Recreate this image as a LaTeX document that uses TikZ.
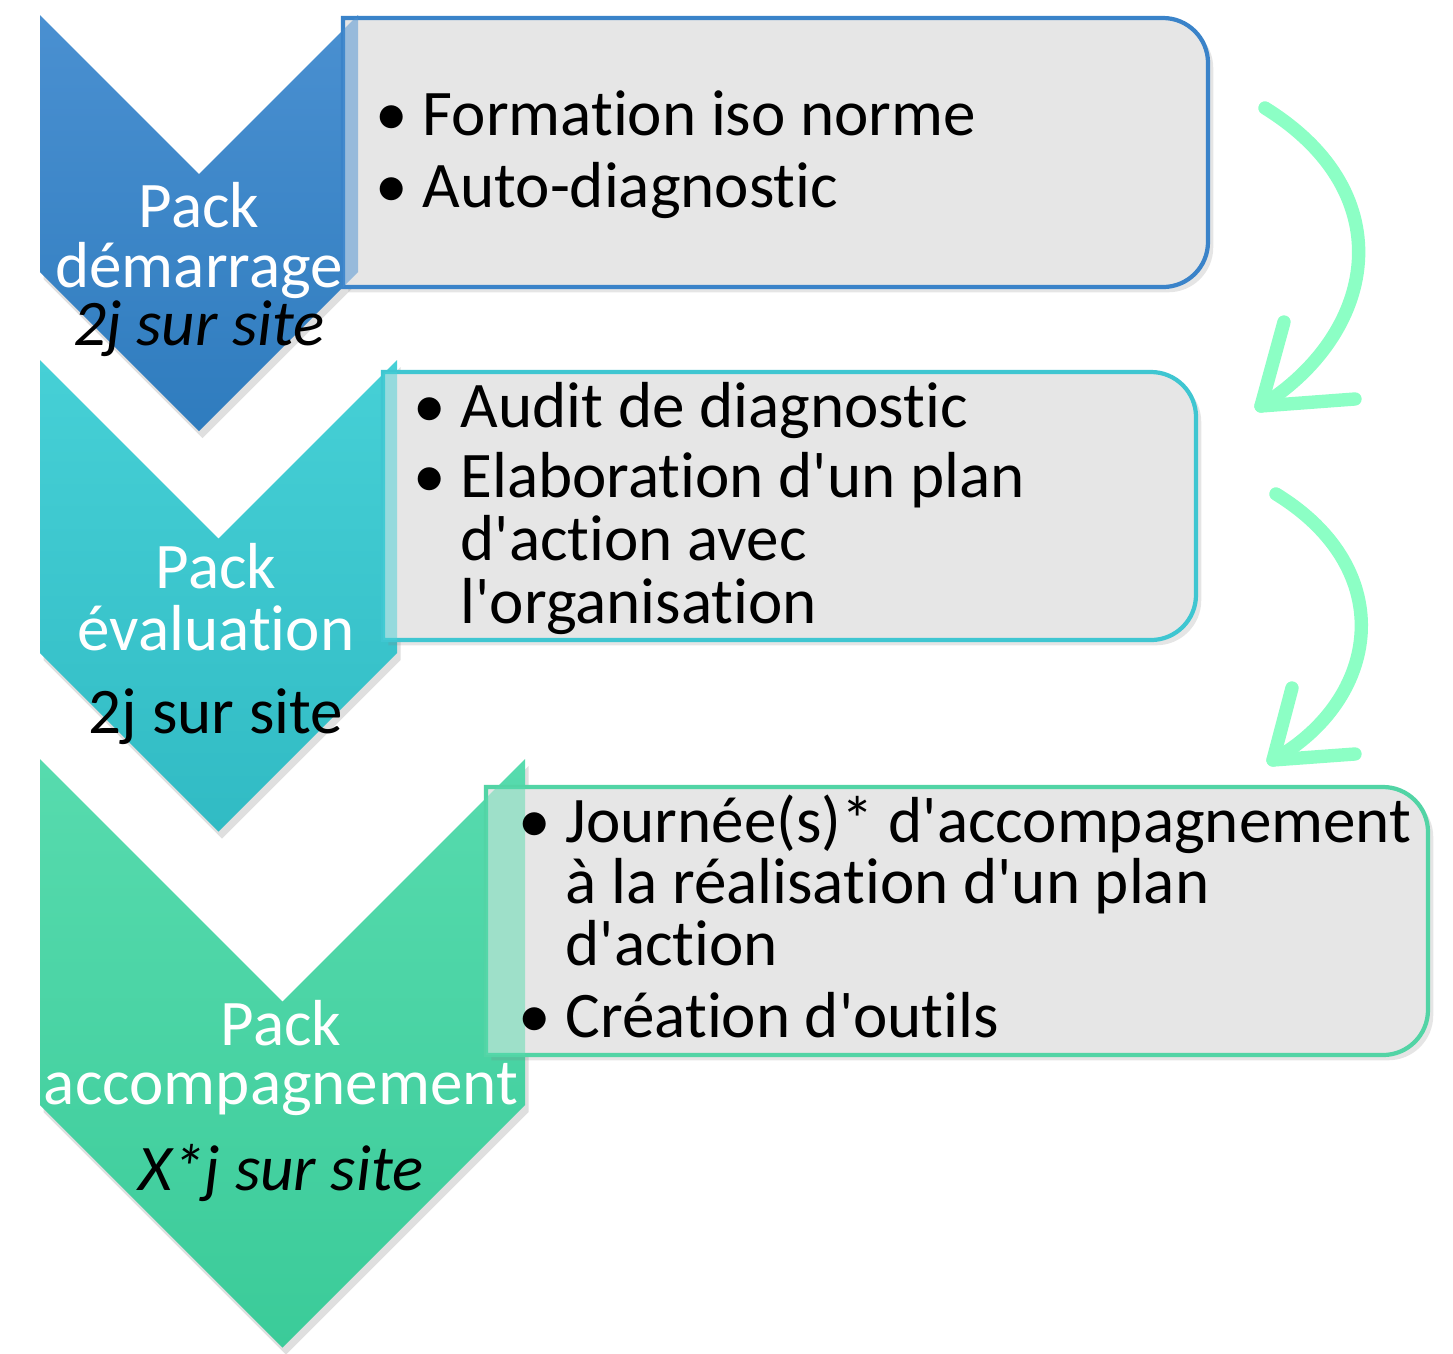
\documentclass[tikz,border=0pt]{standalone}
\usepackage{fontspec}
\setmainfont{Carlito}
\usetikzlibrary{shadows, positioning}
\definecolor{blueTop}{HTML}{4A90D1}
\definecolor{blueBot}{HTML}{2F7CBE}
\definecolor{blueLine}{HTML}{3A83C9}
\definecolor{cyanTop}{HTML}{46D0D6}
\definecolor{cyanBot}{HTML}{31BBC4}
\definecolor{cyanLine}{HTML}{3FC6D1}
\definecolor{greenTop}{HTML}{57DBAE}
\definecolor{greenBot}{HTML}{3BCB99}
\definecolor{greenLine}{HTML}{52D4A5}
\definecolor{boxgray}{HTML}{E6E6E6}
\definecolor{flowgreen}{HTML}{8CFFC5}
\newcommand{\packfont}{\fontsize{18.5}{22}\selectfont}
\newcommand{\itemfont}{\fontsize{18.5}{22}\selectfont}
\newcommand{\ap}{\textquotesingle}
\newcommand{\tiglyph}{t\kern0pt i}% keeps t and i apart
% chevron: left, right, top, bottom of the sides
\newcommand{\chevronpath}[4]{(#1,-#3) -- ({(#1+#2)/2},{-#3-(#2-#1)/2}) -- (#2,-#3) -- (#2,-#4) -- ({(#1+#2)/2},{-#4-(#2-#1)/2}) -- (#1,-#4) -- cycle}
% list box: left, top, right, bottom (right corners rounded)
\newcommand{\listboxpath}[4]{(#1,-#2) -- ({#3-45},-#2) arc[start angle=90,end angle=0,radius=0.45cm] -- (#3,{-#4+45}) arc[start angle=0,end angle=-90,radius=0.45cm] -- (#1,-#4) -- cycle}
\tikzset{
  chevron/.style={draw=none, drop shadow={opacity=0.25, shadow xshift=1pt, shadow yshift=-2pt}},
  listbox/.style={fill=boxgray, line width=1.2pt, drop shadow={opacity=0.2, shadow xshift=1.5pt, shadow yshift=-1.5pt}},
  packtext/.style={text=white, font=\packfont, anchor=base, inner sep=0pt},
  dureetext/.style={text=black, font=\packfont, anchor=base, inner sep=0pt},
  itemtext/.style={font=\itemfont, anchor=base west, inner sep=0pt},
  puce/.style={font=\itemfont, anchor=base, inner sep=0pt},
  flowarrow/.style={draw=flowgreen, line width=3.8pt, line cap=round, line join=round}
}
\begin{document}
\begin{tikzpicture}[x=0.01cm, y=0.01cm]
\useasboundingbox[fill=white] (0,0) rectangle (1453,-1354);

% chevrons
\path[chevron, top color=blueTop, bottom color=blueBot] \chevronpath{40}{358}{15}{272};
\path[chevron, top color=cyanTop, bottom color=cyanBot] \chevronpath{40}{397}{360}{653};
\path[chevron, top color=greenTop, bottom color=greenBot] \chevronpath{40}{525}{759}{1105};

% list boxes
\path[listbox, draw=blueLine] \listboxpath{343}{18}{1208}{287};
\path[listbox, draw=cyanLine] \listboxpath{383}{372}{1196}{640};
\path[listbox, draw=greenLine] \listboxpath{486}{787}{1428}{1055};

% chevron seen through the boxes
\begin{scope}
\clip \listboxpath{343}{18}{1208}{287};
\fill[blueTop, opacity=0.5] \chevronpath{40}{358}{15}{272};
\end{scope}
\begin{scope}
\clip \listboxpath{383}{372}{1196}{640};
\fill[cyanTop, opacity=0.5] \chevronpath{40}{397}{360}{653};
\end{scope}
\begin{scope}
\clip \listboxpath{486}{787}{1428}{1055};
\fill[greenTop, opacity=0.5] \chevronpath{40}{525}{759}{1105};
\end{scope}

% chevron labels
\node[packtext] (packA) at (199,-227) {Pack};
\node[packtext] (nomA) at (199,-287) {démarrage};
\node[dureetext, font=\packfont\itshape] (dureeA) at (199,-345) {2j sur site};

\node[packtext] (packB) at (216,-588) {Pack};
\node[packtext] (nomB) at (216,-650) {évalua\tiglyph on};
\node[dureetext] (dureeB) at (216,-733) {2j sur site};

\node[packtext] (packC) at (281,-1045) {Pack};
\node[packtext] (nomC) at (281,-1104) {accompagnement};
\node[dureetext, font=\packfont\itshape] (dureeC) at (281,-1190) {X*j sur site};

% items
\node[puce] (puceA1) at (392,-135) {\textbullet};
\node[itemtext] (itemA1) at (422,-135) {Forma\tiglyph on iso norme};
\node[puce] (puceA2) at (392,-207) {\textbullet};
\node[itemtext] (itemA2) at (422,-207) {Auto-diagnos\tiglyph c};

\node[puce] (puceB1) at (430,-427) {\textbullet};
\node[itemtext] (itemB1) at (460,-427) {Audit de diagnos\tiglyph c};
\node[puce] (puceB2) at (430,-497) {\textbullet};
\node[itemtext] (itemB2) at (460,-497) {Elabora\tiglyph on d\ap un plan};
\node[itemtext] (itemB2b) at (460,-560) {d\ap ac\tiglyph on avec};
\node[itemtext] (itemB2c) at (460,-623) {l\ap organisa\tiglyph on};

\node[puce] (puceC1) at (535,-842) {\textbullet};
\node[itemtext] (itemC1) at (565,-842) {Journée(s)* d\ap accompagnement};
\node[itemtext] (itemC1b) at (565,-903) {à la réalisa\tiglyph on d\ap un plan};
\node[itemtext] (itemC1c) at (565,-965) {d\ap ac\tiglyph on};
\node[puce] (puceC2) at (535,-1037) {\textbullet};
\node[itemtext] (itemC2) at (565,-1037) {Créa\tiglyph on d\ap ou\tiglyph ls};

% flow arrows
\coordinate (flowAstart) at (1265,-108);
\coordinate (flowAtip) at (1261,-406);
\coordinate (flowAarm1) at (1284,-322);
\coordinate (flowAarm2) at (1355,-399);
\draw[flowarrow] (flowAstart) .. controls (1405,-195) and (1375,-335) .. (flowAtip);
\draw[flowarrow] (flowAarm1) -- (flowAtip) -- (flowAarm2);

\coordinate (flowBstart) at (1276,-494);
\coordinate (flowBtip) at (1273,-760);
\coordinate (flowBarm1) at (1292,-688);
\coordinate (flowBarm2) at (1355,-754);
\draw[flowarrow] (flowBstart) .. controls (1400,-570) and (1380,-700) .. (flowBtip);
\draw[flowarrow] (flowBarm1) -- (flowBtip) -- (flowBarm2);
\end{tikzpicture}
\end{document}
